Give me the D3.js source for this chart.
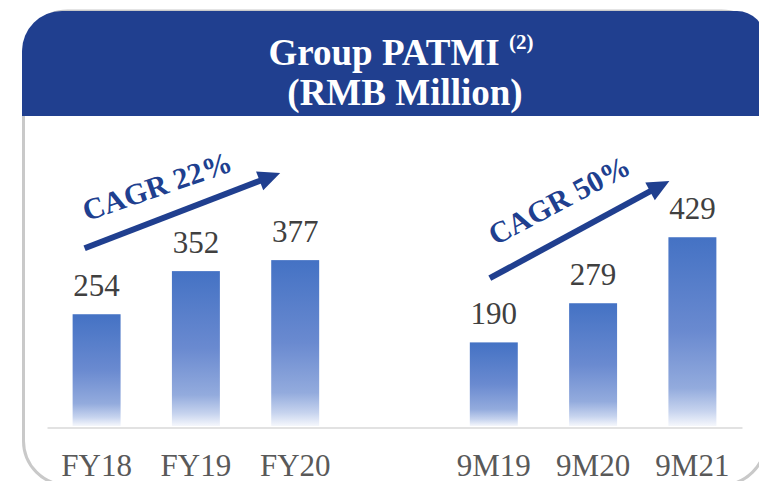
<!DOCTYPE html>
<html>
<head>
<meta charset="utf-8">
<script src="https://cdn.jsdelivr.net/npm/d3@7"></script>
<style>
  body { margin: 0; background: #fff; }
  svg { display: block; }
</style>
</head>
<body>
<div id="chart"></div>
<script>

// Group PATMI bar chart (RMB Million)

const width = 759;
const height = 481;

// data
const categories = ["FY18", "FY19", "FY20", "9M19", "9M20", "9M21"];
const values = [254, 352, 377, 190, 279, 429];
const cagrLabels = ["CAGR 22%", "CAGR 50%"];
const titleLines = ["Group PATMI", "(RMB Million)"];
const titleNote = "(2)";

const blue = "#203f8f";
const serif = "Liberation Serif, Times New Roman, serif";

const svg = d3
  .select("#chart")
  .append("svg")
  .attr("width", width)
  .attr("height", height);

// panel outline (grey, rounded) and blue header
svg.append("rect")
  .attr("x", 23.5)
  .attr("y", 11)
  .attr("width", 742)
  .attr("height", 474)
  .attr("rx", 44)
  .attr("fill", "#fff")
  .attr("stroke", "#c9c9c9")
  .attr("stroke-width", 3);

svg.append("path")
  .attr("d", "M22,116 V51 A40,40 0 0 1 62,11 H737 A28,28 0 0 1 765,39 V116 Z")
  .attr("fill", blue);

// title
const title = svg.append("text")
  .attr("x", 401)
  .attr("y", 65)
  .attr("text-anchor", "middle")
  .attr("font-family", serif)
  .attr("font-weight", "bold")
  .attr("font-size", "37px")
  .attr("fill", "#fff");
title.append("tspan").text(titleLines[0] + " ");
title.append("tspan")
  .attr("font-size", "21px")
  .attr("dy", -16)
  .text(titleNote);

svg.append("text")
  .attr("x", 405)
  .attr("y", 105)
  .attr("text-anchor", "middle")
  .attr("font-family", serif)
  .attr("font-weight", "bold")
  .attr("font-size", "37px")
  .attr("fill", "#fff")
  .text(titleLines[1]);

// x slots: the two groups are separated by one empty slot
const slots = [...categories.slice(0, 3), "gap", ...categories.slice(3)];

const xScale = d3.scaleBand()
  .domain(slots)
  .range([47, 742])
  .paddingInner(0.517)
  .paddingOuter(0.258);

const yScale = d3.scaleLinear()
  .domain([0, 500])
  .range([426, 206]);

// gradient fill for the bars
const grad = svg.append("defs")
  .append("linearGradient")
  .attr("id", "barFill")
  .attr("x1", 0).attr("y1", 0)
  .attr("x2", 0).attr("y2", 1);
[[0, "#4472c4"], [0.5, "#6a8ad0"], [0.8, "#93abdd"], [0.92, "#c6d3ee"], [1, "#f5f7fc"]]
  .forEach(([o, c]) => grad.append("stop").attr("offset", o).attr("stop-color", c));

const data = categories.map((c, i) => ({ cat: c, value: values[i] }));

// bars
svg.selectAll("rect.bar")
  .data(data)
  .enter()
  .append("rect")
    .attr("class", "bar")
    .attr("x", d => xScale(d.cat))
    .attr("y", d => yScale(d.value))
    .attr("width", xScale.bandwidth())
    .attr("height", d => yScale(0) - yScale(d.value))
    .attr("fill", "url(#barFill)");

// value labels
svg.selectAll("text.value")
  .data(data)
  .enter()
  .append("text")
    .attr("class", "value")
    .attr("x", d => xScale(d.cat) + xScale.bandwidth() / 2)
    .attr("y", d => yScale(d.value) - 18)
    .attr("text-anchor", "middle")
    .attr("font-family", serif)
    .attr("font-size", "31px")
    .attr("fill", "#404040")
    .text(d => d.value);

// x axis
const xAxis = svg.append("g")
  .attr("transform", "translate(0,427.5)")
  .call(d3.axisBottom(xScale)
    .tickSize(0)
    .tickPadding(26)
    .tickFormat(d => (d === "gap" ? "" : d)));
xAxis.select(".domain")
  .attr("stroke", "#d9d9d9")
  .attr("stroke-width", 1.5);
xAxis.selectAll("text")
  .attr("font-family", serif)
  .attr("font-size", "31px")
  .attr("fill", "#595959");

// CAGR arrows, placed in chart units (category offsets, value levels)
const arrows = [
  { from: "FY18", dx0: -12, v0: 404, to: "FY20", dx1: -15, v1: 575, tx: 157, ty: 186, rot: -19 },
  { from: "9M19", dx0: -4, v0: 336, to: "9M21", dx1: -23, v1: 557, tx: 559, ty: 200, rot: -28 }
];

arrows.forEach((a, i) => {
  const x0 = xScale(a.from) + xScale.bandwidth() / 2 + a.dx0;
  const y0 = yScale(a.v0);
  const x1 = xScale(a.to) + xScale.bandwidth() / 2 + a.dx1;
  const y1 = yScale(a.v1);
  const len = Math.hypot(x1 - x0, y1 - y0);
  const ux = (x1 - x0) / len, uy = (y1 - y0) / len;
  const headLen = 22, headHalf = 10;
  const bx = x1 - ux * headLen, by = y1 - uy * headLen;

  svg.append("line")
    .attr("x1", x0).attr("y1", y0)
    .attr("x2", bx + ux * 2).attr("y2", by + uy * 2)
    .attr("stroke", blue)
    .attr("stroke-width", 6);

  svg.append("polygon")
    .attr("points", [
      [x1, y1],
      [bx - uy * headHalf, by + ux * headHalf],
      [bx + uy * headHalf, by - ux * headHalf]
    ].map(p => p.join(",")).join(" "))
    .attr("fill", blue);

  svg.append("text")
    .attr("transform", `translate(${a.tx},${a.ty}) rotate(${a.rot})`)
    .attr("text-anchor", "middle")
    .attr("dy", "0.35em")
    .attr("font-family", serif)
    .attr("font-weight", "bold")
    .attr("font-size", "30px")
    .attr("fill", blue)
    .text(cagrLabels[i]);
});

</script>
</body>
</html>
